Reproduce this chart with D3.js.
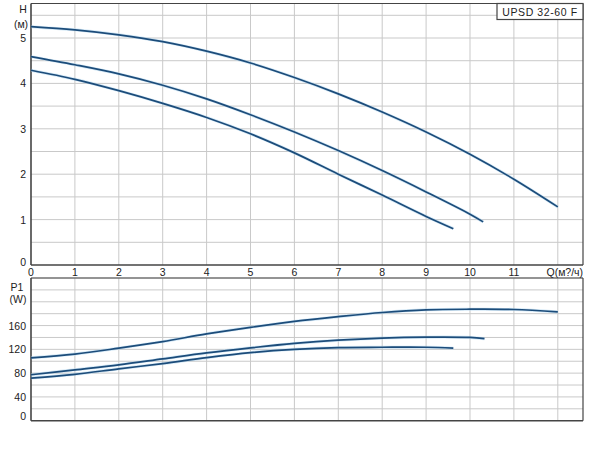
<!DOCTYPE html>
<html><head><meta charset="utf-8">
<script src="https://cdn.jsdelivr.net/npm/d3@7"></script>
<style>body{margin:0;background:#fff}svg{display:block}text{font-family:Arial,"Liberation Sans",sans-serif;font-size:10.5px;fill:#222}</style>
</head><body><svg id="c" width="600" height="455"></svg>
<script>
// Data
const qTicks = [0,1,2,3,4,5,6,7,8,9,10,11];
const hTicks = [0,1,2,3,4,5];
const pTicks = [0,40,80,120,160];
const title = "UPSD 32-60 F";
const qLabel = "Q(м?/ч)";
// H curves (Q, H)
const hHigh = [[0,5.25],[1,5.18],[2,5.07],[3,4.92],[4,4.71],[5,4.45],[6,4.13],[7,3.77],[8,3.37],[9,2.93],[10,2.44],[11,1.89],[12,1.28]];
const hMid  = [[0,4.59],[1,4.41],[2,4.21],[3,3.96],[4,3.66],[5,3.31],[6,2.93],[7,2.52],[8,2.08],[9,1.61],[10,1.12],[10.3,0.95]];
const hLow  = [[0,4.29],[1,4.09],[2,3.84],[3,3.56],[4,3.25],[5,2.89],[6,2.47],[7,2.00],[8,1.54],[9,1.07],[9.62,0.80]];
// P1 curves (Q, W)
const pHigh = [[0,105.7],[1,112],[2,122],[3,133],[4,146],[5,157],[6,167],[7,175],[8,182],[9,186.5],[10,187.5],[11,187],[12,183]];
const pMid  = [[0,77.3],[1,85.6],[2,94],[3,104],[4,114],[5,122.5],[6,130],[7,135.5],[8,139],[9,140.5],[10,140],[10.33,138]];
const pLow  = [[0,71.7],[1,78],[2,87.3],[3,96],[4,106],[5,114.5],[6,120],[7,123],[8,123.5],[9,123.5],[9.62,122]];

const svg = d3.select("#c");
const L = 31, R = 583;
const x = d3.scaleLinear().domain([0,12]).range([L, L+43.9*12]);
const yH = d3.scaleLinear().domain([0,5.76]).range([265, 3.5]);
const yP = d3.scaleLinear().domain([0,240]).range([420.7, 278]);

const grid = "#c9c9c9", axisC = "#444", lineC = "#1c4c7a";

function panel(y, maxV, step, top, bottom){
  const g = svg.append("g");
  d3.range(step, maxV + 1e-9, step).forEach(v=>{
    g.append("line").attr("x1",L).attr("x2",R).attr("y1",y(v)).attr("y2",y(v)).attr("stroke",grid).attr("stroke-width",1);
  });
  d3.range(1,13).forEach(q=>{
    g.append("line").attr("x1",x(q)).attr("x2",x(q)).attr("y1",top).attr("y2",bottom).attr("stroke",grid).attr("stroke-width",1);
  });
  g.append("line").attr("x1",L).attr("x2",R).attr("y1",top).attr("y2",top).attr("stroke",axisC).attr("stroke-width",1.2);
  g.append("line").attr("x1",R).attr("x2",R).attr("y1",top).attr("y2",bottom).attr("stroke",axisC).attr("stroke-width",1.2);
  g.append("line").attr("x1",L).attr("x2",R).attr("y1",bottom).attr("y2",bottom).attr("stroke",axisC).attr("stroke-width",1.6);
  g.append("line").attr("x1",L).attr("x2",L).attr("y1",top).attr("y2",bottom).attr("stroke",axisC).attr("stroke-width",1.6);
}
panel(yH, 5.76, 0.5, 3.5, 265);
panel(yP, 240, 20, 278, 420.7);

const line = (ys)=>d3.line().x(d=>x(d[0])).y(d=>ys(d[1])).curve(d3.curveCatmullRom.alpha(0.5));
function drawCurve(data, ys){
  svg.append("path").attr("d",line(ys)(data)).attr("fill","none").attr("stroke","#a9d3ef").attr("stroke-width",3).attr("stroke-opacity",0.5);
  svg.append("path").attr("d",line(ys)(data)).attr("fill","none").attr("stroke",lineC).attr("stroke-width",1.7);
}
[hHigh,hMid,hLow].forEach(d=>drawCurve(d,yH));
[pHigh,pMid,pLow].forEach(d=>drawCurve(d,yP));

hTicks.forEach(v=>{
  svg.append("text").attr("x",26).attr("y",yH(v)+ (v===0?1:4)).attr("text-anchor","end").text(v);
});
svg.append("text").attr("x",23).attr("y",13).attr("text-anchor","middle").text("H");
svg.append("text").attr("x",21).attr("y",28).attr("text-anchor","middle").text("(м)");
qTicks.forEach(q=>{
  svg.append("text").attr("x",x(q)).attr("y",276).attr("text-anchor","middle").text(q);
});
svg.append("text").attr("x",x(12)+7).attr("y",276).attr("text-anchor","middle").text(qLabel);

pTicks.forEach(v=>{
  svg.append("text").attr("x",26).attr("y",yP(v)+(v===0?-1:4)).attr("text-anchor","end").text(v);
});
svg.append("text").attr("x",17).attr("y",291).attr("text-anchor","middle").text("P1");
svg.append("text").attr("x",18).attr("y",303).attr("text-anchor","middle").text("(W)");

svg.append("rect").attr("x",497).attr("y",3.5).attr("width",86).attr("height",16).attr("fill","#fff").attr("stroke",axisC).attr("stroke-width",1.2);
svg.append("text").attr("x",540).attr("y",15.5).attr("text-anchor","middle").attr("letter-spacing","0.6").text(title);
</script></body></html>
